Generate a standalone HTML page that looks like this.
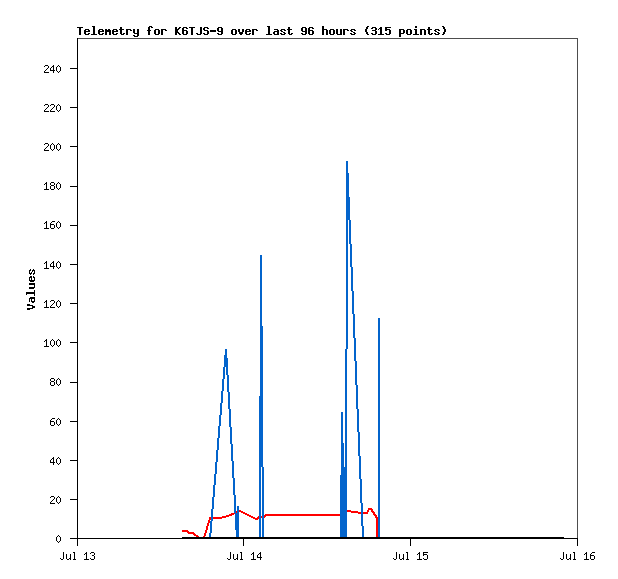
<!DOCTYPE html>
<html><head><meta charset="utf-8"><title>Telemetry</title>
<style>
html,body{margin:0;padding:0;background:#fff;}
body{width:618px;height:579px;position:relative;overflow:hidden;}
svg{position:absolute;left:0;top:0;display:block;}
.tx{position:absolute;color:transparent;white-space:pre;line-height:13px;margin:0;padding:0;}
.m{font-family:"Liberation Mono",monospace;font-weight:bold;font-size:11.667px;}
.s{font-family:"Liberation Mono",monospace;font-size:10px;line-height:12px;}
</style></head><body>
<svg width="618" height="579" viewBox="0 0 618 579" shape-rendering="crispEdges"><path fill="rgb(255,0,0)" d="M368 508h4v1h-4zM368 509h5v1h-5zM347 510h4v1h-4zM239 510h2v1h-2zM371 510h2v1h-2zM367 510h2v2h-2zM347 511h11v1h-11zM371 511h3v1h-3zM239 511h4v1h-4zM236 511h1v2h-1zM241 512h4v1h-4zM351 512h10v1h-10zM372 512h3v1h-3zM363 512h5v2h-5zM243 513h4v1h-4zM231 513h4v1h-4zM373 513h2v1h-2zM358 513h3v1h-3zM245 514h4v1h-4zM265 514h75v1h-75zM229 514h5v1h-5zM373 514h3v1h-3zM264 515h76v1h-76zM226 515h6v1h-6zM247 515h4v1h-4zM374 515h3v1h-3zM264 516h2v1h-2zM375 516h2v1h-2zM222 516h7v1h-7zM249 516h4v1h-4zM258 516h1v1h-1zM261 516h1v2h-1zM257 517h2v1h-2zM264 517h1v1h-1zM375 517h3v1h-3zM213 517h13v1h-13zM251 517h4v1h-4zM253 518h6v1h-6zM213 518h9v1h-9zM209 517h2v3h-2zM255 519h3v1h-3zM208 520h2v3h-2zM207 523h2v3h-2zM206 526h2v4h-2zM182 530h6v1h-6zM182 531h7v1h-7zM205 530h2v3h-2zM187 532h7v1h-7zM188 533h7v1h-7zM193 534h3v1h-3zM204 533h2v3h-2zM194 535h4v1h-4zM376 518h2v19h-2zM203 536h2v1h-2zM196 536h3v1h-3z"/><path fill="rgb(3,100,204)" d="M346 161h2v12h-2zM346 173h3v24h-3zM346 197h4v23h-4zM349 220h2v24h-2zM350 244h2v23h-2zM351 267h2v24h-2zM352 291h2v23h-2zM260 255h2v71h-2zM353 314h2v24h-2zM346 220h2v129h-2zM225 349h2v6h-2zM224 355h3v3h-3zM354 338h2v23h-2zM224 358h4v9h-4zM226 367h2v8h-2zM223 367h2v12h-2zM355 361h2v24h-2zM222 379h2v12h-2zM227 375h2v17h-2zM260 326h3v70h-3zM221 391h2v12h-2zM356 385h2v24h-2zM228 392h2v17h-2zM220 403h2v12h-2zM219 415h2v11h-2zM229 409h2v18h-2zM357 409h2v23h-2zM218 426h2v12h-2zM341 412h2v31h-2zM230 427h2v17h-2zM217 438h2v12h-2zM358 432h2v24h-2zM231 444h2v17h-2zM216 450h2v12h-2zM345 349h2v118h-2zM259 396h4v71h-4zM341 443h3v24h-3zM215 462h2v12h-2zM341 467h6v8h-6zM232 461h2v17h-2zM359 456h2v23h-2zM214 474h2v11h-2zM233 478h2v17h-2zM213 485h2v12h-2zM360 479h2v24h-2zM212 497h2v12h-2zM234 495h2v18h-2zM237 506h2v7h-2zM211 509h2v12h-2zM361 503h2v23h-2zM235 513h4v17h-4zM210 521h2v12h-2zM378 318h2v219h-2zM262 467h2v70h-2zM259 467h2v70h-2zM340 475h7v62h-7zM362 526h2v11h-2zM236 530h3v7h-3zM209 533h2v4h-2z"/><path fill="rgb(77,77,77)" d="M78 38h500v1h-500zM577 39h1v499h-1z"/><path fill="rgb(0,0,0)" d="M267 26h3v1h-3zM367 26h2v1h-2zM92 26h3v1h-3zM442 26h2v1h-2zM149 26h3v1h-3zM415 26h2v2h-2zM302 27h4v1h-4zM179 27h2v1h-2zM183 27h4v1h-4zM77 27h6v1h-6zM372 27h4v1h-4zM151 27h2v1h-2zM385 27h6v1h-6zM309 27h4v1h-4zM218 27h4v1h-4zM380 27h2v1h-2zM204 27h4v1h-4zM189 27h6v1h-6zM322 26h2v3h-2zM120 27h2v2h-2zM175 27h2v2h-2zM428 27h2v2h-2zM443 27h2v2h-2zM366 27h2v2h-2zM288 27h2v2h-2zM207 28h2v1h-2zM312 28h2v1h-2zM379 28h3v1h-3zM186 28h2v1h-2zM178 28h2v1h-2zM385 28h2v1h-2zM371 28h2v1h-2zM148 27h2v3h-2zM308 28h2v2h-2zM203 28h2v2h-2zM182 28h2v2h-2zM375 28h2v2h-2zM232 29h4v1h-4zM105 29h2v1h-2zM99 29h4v1h-4zM427 29h5v1h-5zM414 29h3v1h-3zM246 29h4v1h-4zM407 29h4v1h-4zM113 29h4v1h-4zM161 29h5v1h-5zM435 29h4v1h-4zM274 29h4v1h-4zM155 29h4v1h-4zM343 29h5v1h-5zM322 29h5v1h-5zM330 29h4v1h-4zM126 29h5v1h-5zM420 29h5v1h-5zM175 29h4v1h-4zM287 29h5v1h-5zM281 29h4v1h-4zM108 29h2v1h-2zM378 29h1v1h-1zM252 29h5v1h-5zM85 29h4v1h-4zM351 29h4v1h-4zM399 29h5v1h-5zM119 29h5v1h-5zM385 29h5v1h-5zM221 28h2v3h-2zM217 28h2v3h-2zM305 28h2v3h-2zM301 28h2v3h-2zM284 30h2v1h-2zM165 30h2v1h-2zM280 30h2v1h-2zM354 30h2v1h-2zM308 30h5v1h-5zM102 30h2v1h-2zM88 30h2v1h-2zM249 30h2v1h-2zM98 30h2v1h-2zM116 30h2v1h-2zM147 30h4v1h-4zM277 30h2v1h-2zM84 30h2v1h-2zM245 30h2v1h-2zM350 30h2v1h-2zM112 30h2v1h-2zM130 30h2v1h-2zM372 30h4v1h-4zM438 30h2v1h-2zM434 30h2v1h-2zM347 30h2v1h-2zM256 30h2v1h-2zM182 30h5v1h-5zM204 30h4v1h-4zM385 30h2v1h-2zM365 29h2v3h-2zM444 29h2v3h-2zM242 29h2v3h-2zM238 29h2v3h-2zM210 30h6v2h-6zM105 30h6v2h-6zM175 30h3v2h-3zM98 31h6v1h-6zM245 31h6v1h-6zM84 31h6v1h-6zM112 31h6v1h-6zM281 31h2v1h-2zM218 31h5v1h-5zM351 31h2v1h-2zM302 31h5v1h-5zM274 31h5v1h-5zM435 31h2v1h-2zM137 29h2v4h-2zM133 29h2v4h-2zM399 30h2v3h-2zM403 30h2v3h-2zM437 32h2v1h-2zM175 32h4v1h-4zM283 32h2v1h-2zM353 32h2v1h-2zM93 27h2v7h-2zM268 27h2v7h-2zM200 27h2v7h-2zM340 29h2v5h-2zM336 29h2v5h-2zM380 29h2v5h-2zM235 30h2v4h-2zM120 30h2v4h-2zM231 30h2v4h-2zM410 30h2v4h-2zM428 30h2v4h-2zM406 30h2v4h-2zM415 30h2v4h-2zM158 30h2v4h-2zM154 30h2v4h-2zM333 30h2v4h-2zM329 30h2v4h-2zM389 30h2v4h-2zM288 30h2v4h-2zM207 31h2v3h-2zM312 31h2v3h-2zM308 31h2v3h-2zM186 31h2v3h-2zM182 31h2v3h-2zM375 31h2v3h-2zM221 32h2v2h-2zM98 32h2v2h-2zM277 32h2v2h-2zM84 32h2v2h-2zM245 32h2v2h-2zM239 32h4v2h-4zM273 32h2v2h-2zM112 32h2v2h-2zM305 32h2v2h-2zM443 32h2v2h-2zM366 32h2v2h-2zM284 33h2v1h-2zM280 33h2v1h-2zM354 33h2v1h-2zM102 33h2v1h-2zM88 33h2v1h-2zM249 33h2v1h-2zM203 33h2v1h-2zM116 33h2v1h-2zM350 33h2v1h-2zM134 33h5v1h-5zM217 33h2v1h-2zM291 33h2v1h-2zM438 33h2v1h-2zM399 33h5v1h-5zM434 33h2v1h-2zM301 33h2v1h-2zM178 33h2v1h-2zM431 33h2v1h-2zM123 33h2v1h-2zM196 33h2v1h-2zM385 33h2v1h-2zM371 33h2v1h-2zM79 28h2v7h-2zM191 28h2v7h-2zM161 30h2v5h-2zM326 30h2v5h-2zM322 30h2v5h-2zM126 30h2v5h-2zM424 30h2v5h-2zM420 30h2v5h-2zM252 30h2v5h-2zM343 30h2v5h-2zM148 31h2v4h-2zM105 32h2v3h-2zM109 32h2v3h-2zM175 33h2v2h-2zM232 34h4v1h-4zM99 34h4v1h-4zM367 34h2v1h-2zM407 34h4v1h-4zM246 34h4v1h-4zM302 34h4v1h-4zM113 34h4v1h-4zM121 34h3v1h-3zM179 34h2v1h-2zM155 34h4v1h-4zM378 34h6v1h-6zM435 34h4v1h-4zM429 34h3v1h-3zM197 34h4v1h-4zM183 34h4v1h-4zM240 34h2v1h-2zM330 34h4v1h-4zM337 34h5v1h-5zM442 34h2v1h-2zM386 34h4v1h-4zM372 34h4v1h-4zM91 34h6v1h-6zM85 34h4v1h-4zM281 34h4v1h-4zM289 34h3v1h-3zM266 34h6v1h-6zM309 34h4v1h-4zM413 34h6v1h-6zM274 34h5v1h-5zM218 34h4v1h-4zM204 34h4v1h-4zM351 34h4v1h-4zM137 34h2v2h-2zM133 35h2v1h-2zM399 34h2v3h-2zM134 36h4v1h-4zM53 65h1v1h-1zM58 65h1v1h-1zM45 65h3v1h-3zM44 66h1v1h-1zM57 66h1v1h-1zM59 66h1v1h-1zM52 66h2v1h-2zM77 38h1v30h-1zM48 66h1v2h-1zM51 67h1v1h-1zM47 68h1v1h-1zM70 68h8v1h-8zM53 67h1v3h-1zM50 68h1v2h-1zM46 69h1v1h-1zM56 67h1v4h-1zM60 67h1v4h-1zM45 70h1v1h-1zM50 70h5v1h-5zM44 71h1v1h-1zM57 71h1v1h-1zM59 71h1v1h-1zM53 71h1v2h-1zM58 72h1v1h-1zM44 72h5v1h-5zM51 104h3v1h-3zM58 104h1v1h-1zM45 104h3v1h-3zM44 105h1v1h-1zM57 105h1v1h-1zM50 105h1v1h-1zM59 105h1v1h-1zM77 69h1v38h-1zM54 105h1v2h-1zM48 105h1v2h-1zM47 107h1v1h-1zM53 107h1v1h-1zM70 107h8v1h-8zM52 108h1v1h-1zM46 108h1v1h-1zM56 106h1v4h-1zM60 106h1v4h-1zM45 109h1v1h-1zM51 109h1v1h-1zM44 110h1v1h-1zM57 110h1v1h-1zM50 110h1v1h-1zM59 110h1v1h-1zM50 111h5v1h-5zM58 111h1v1h-1zM44 111h5v1h-5zM52 143h1v1h-1zM58 143h1v1h-1zM45 143h3v1h-3zM44 144h1v1h-1zM57 144h1v1h-1zM59 144h1v1h-1zM51 144h1v1h-1zM53 144h1v1h-1zM77 108h1v38h-1zM48 144h1v2h-1zM47 146h1v1h-1zM70 146h8v1h-8zM46 147h1v1h-1zM54 145h1v4h-1zM50 145h1v4h-1zM56 145h1v4h-1zM60 145h1v4h-1zM45 148h1v1h-1zM44 149h1v1h-1zM57 149h1v1h-1zM59 149h1v1h-1zM51 149h1v1h-1zM53 149h1v1h-1zM52 150h1v1h-1zM58 150h1v1h-1zM44 150h5v1h-5zM51 182h3v1h-3zM46 182h1v1h-1zM58 182h1v1h-1zM57 183h1v1h-1zM59 183h1v1h-1zM45 183h2v1h-2zM54 183h1v2h-1zM50 183h1v2h-1zM44 184h1v1h-1zM77 147h1v39h-1zM51 185h3v1h-3zM70 186h8v1h-8zM56 184h1v4h-1zM60 184h1v4h-1zM46 184h1v5h-1zM54 186h1v3h-1zM50 186h1v3h-1zM57 188h1v1h-1zM59 188h1v1h-1zM51 189h3v1h-3zM58 189h1v1h-1zM44 189h5v1h-5zM46 221h1v1h-1zM52 221h3v1h-3zM58 221h1v1h-1zM57 222h1v1h-1zM59 222h1v1h-1zM51 222h1v1h-1zM45 222h2v1h-2zM44 223h1v1h-1zM50 223h1v1h-1zM77 187h1v38h-1zM50 224h4v1h-4zM70 225h8v1h-8zM56 223h1v4h-1zM60 223h1v4h-1zM46 223h1v5h-1zM54 225h1v3h-1zM50 225h1v3h-1zM57 227h1v1h-1zM59 227h1v1h-1zM51 228h3v1h-3zM58 228h1v1h-1zM44 228h5v1h-5zM46 261h1v1h-1zM58 261h1v1h-1zM53 261h1v1h-1zM57 262h1v1h-1zM59 262h1v1h-1zM52 262h2v1h-2zM45 262h2v1h-2zM77 226h1v38h-1zM44 263h1v1h-1zM51 263h1v1h-1zM70 264h8v1h-8zM53 263h1v3h-1zM50 264h1v2h-1zM56 263h1v4h-1zM60 263h1v4h-1zM50 266h5v1h-5zM46 263h1v5h-1zM57 267h1v1h-1zM59 267h1v1h-1zM53 267h1v2h-1zM58 268h1v1h-1zM44 268h5v1h-5zM33 269h1v1h-1zM30 269h1v1h-1zM29 270h2v1h-2zM32 270h3v1h-3zM32 271h1v1h-1zM34 271h1v2h-1zM29 271h1v2h-1zM31 272h1v1h-1zM29 273h3v1h-3zM33 273h2v1h-2zM33 274h1v1h-1zM30 274h1v1h-1zM33 276h1v1h-1zM30 276h2v1h-2zM29 277h3v1h-3zM33 277h2v1h-2zM31 278h1v2h-1zM34 278h1v2h-1zM29 278h1v2h-1zM29 280h6v1h-6zM30 281h4v1h-4zM29 283h6v2h-6zM34 285h1v2h-1zM29 287h6v1h-6zM29 288h5v1h-5zM34 290h1v2h-1zM26 292h9v2h-9zM26 294h1v1h-1zM34 294h1v2h-1zM30 297h5v1h-5zM29 298h6v1h-6zM31 299h1v2h-1zM34 299h1v2h-1zM51 300h3v1h-3zM58 300h1v1h-1zM46 300h1v1h-1zM29 299h1v3h-1zM57 301h1v1h-1zM50 301h1v1h-1zM59 301h1v1h-1zM31 301h4v1h-4zM45 301h2v1h-2zM77 265h1v38h-1zM54 301h1v2h-1zM32 302h2v1h-2zM44 302h1v1h-1zM53 303h1v1h-1zM70 303h8v1h-8zM52 304h1v1h-1zM27 304h3v1h-3zM56 302h1v4h-1zM60 302h1v4h-1zM27 305h6v1h-6zM51 305h1v1h-1zM46 302h1v5h-1zM57 306h1v1h-1zM50 306h1v1h-1zM59 306h1v1h-1zM32 306h3v2h-3zM58 307h1v1h-1zM50 307h5v1h-5zM44 307h5v1h-5zM27 308h6v1h-6zM27 309h3v1h-3zM46 339h1v1h-1zM52 339h1v1h-1zM58 339h1v1h-1zM57 340h1v1h-1zM59 340h1v1h-1zM51 340h1v1h-1zM45 340h2v1h-2zM53 340h1v1h-1zM77 304h1v38h-1zM44 341h1v1h-1zM70 342h8v1h-8zM54 341h1v4h-1zM50 341h1v4h-1zM56 341h1v4h-1zM60 341h1v4h-1zM46 341h1v5h-1zM57 345h1v1h-1zM59 345h1v1h-1zM51 345h1v1h-1zM53 345h1v1h-1zM52 346h1v1h-1zM58 346h1v1h-1zM44 346h5v1h-5zM51 378h3v1h-3zM58 378h1v1h-1zM57 379h1v1h-1zM59 379h1v1h-1zM54 379h1v2h-1zM50 379h1v2h-1zM77 343h1v39h-1zM51 381h3v1h-3zM70 382h8v1h-8zM56 380h1v4h-1zM60 380h1v4h-1zM54 382h1v3h-1zM50 382h1v3h-1zM57 384h1v1h-1zM59 384h1v1h-1zM51 385h3v1h-3zM58 385h1v1h-1zM52 418h3v1h-3zM58 418h1v1h-1zM57 419h1v1h-1zM59 419h1v1h-1zM51 419h1v1h-1zM77 383h1v38h-1zM50 420h1v1h-1zM70 421h8v1h-8zM50 421h4v1h-4zM56 420h1v4h-1zM60 420h1v4h-1zM54 422h1v3h-1zM50 422h1v3h-1zM57 424h1v1h-1zM59 424h1v1h-1zM51 425h3v1h-3zM58 425h1v1h-1zM58 457h1v1h-1zM53 457h1v1h-1zM57 458h1v1h-1zM59 458h1v1h-1zM52 458h2v1h-2zM77 422h1v38h-1zM51 459h1v1h-1zM70 460h8v1h-8zM53 459h1v3h-1zM50 460h1v2h-1zM56 459h1v4h-1zM60 459h1v4h-1zM50 462h5v1h-5zM57 463h1v1h-1zM59 463h1v1h-1zM53 463h1v2h-1zM58 464h1v1h-1zM51 496h3v1h-3zM58 496h1v1h-1zM57 497h1v1h-1zM50 497h1v1h-1zM59 497h1v1h-1zM77 461h1v38h-1zM54 497h1v2h-1zM70 499h8v1h-8zM53 499h1v1h-1zM52 500h1v1h-1zM56 498h1v4h-1zM60 498h1v4h-1zM51 501h1v1h-1zM57 502h1v1h-1zM59 502h1v1h-1zM50 502h1v1h-1zM50 503h5v1h-5zM58 503h1v1h-1zM58 535h1v1h-1zM57 536h1v1h-1zM59 536h1v1h-1zM77 500h1v38h-1zM182 537h382v1h-382zM70 538h508v1h-508zM56 537h1v4h-1zM60 537h1v4h-1zM57 541h1v1h-1zM59 541h1v1h-1zM58 542h1v1h-1zM243 539h1v7h-1zM77 539h1v7h-1zM577 539h1v7h-1zM410 539h1v7h-1zM73 552h2v1h-2zM423 552h5v1h-5zM592 552h3v1h-3zM260 552h1v1h-1zM91 552h3v1h-3zM240 552h2v1h-2zM253 552h1v1h-1zM86 552h1v1h-1zM573 552h2v1h-2zM406 552h2v1h-2zM419 552h1v1h-1zM586 552h1v1h-1zM90 553h1v1h-1zM259 553h2v1h-2zM85 553h2v1h-2zM585 553h2v1h-2zM423 553h1v1h-1zM591 553h1v1h-1zM418 553h2v1h-2zM252 553h2v1h-2zM94 553h1v2h-1zM251 554h1v1h-1zM417 554h1v1h-1zM423 554h4v1h-4zM258 554h1v1h-1zM84 554h1v1h-1zM584 554h1v1h-1zM590 554h1v1h-1zM92 555h2v1h-2zM423 555h1v1h-1zM590 555h4v1h-4zM260 554h1v3h-1zM257 555h1v2h-1zM237 554h1v4h-1zM403 554h1v4h-1zM570 554h1v4h-1zM70 554h1v4h-1zM257 557h5v1h-5zM63 552h1v7h-1zM230 552h1v7h-1zM563 552h1v7h-1zM396 552h1v7h-1zM74 553h1v6h-1zM407 553h1v6h-1zM574 553h1v6h-1zM241 553h1v6h-1zM86 554h1v5h-1zM233 554h1v5h-1zM399 554h1v5h-1zM253 554h1v5h-1zM419 554h1v5h-1zM566 554h1v5h-1zM66 554h1v5h-1zM586 554h1v5h-1zM427 555h1v4h-1zM594 556h1v3h-1zM590 556h1v3h-1zM94 556h1v3h-1zM90 558h1v1h-1zM69 558h2v1h-2zM393 558h1v1h-1zM60 558h1v1h-1zM560 558h1v1h-1zM236 558h2v1h-2zM423 558h1v1h-1zM402 558h2v1h-2zM227 558h1v1h-1zM569 558h2v1h-2zM260 558h1v2h-1zM240 559h3v1h-3zM417 559h5v1h-5zM237 559h1v1h-1zM406 559h3v1h-3zM424 559h3v1h-3zM403 559h1v1h-1zM234 559h2v1h-2zM561 559h2v1h-2zM400 559h2v1h-2zM61 559h2v1h-2zM84 559h5v1h-5zM591 559h3v1h-3zM584 559h5v1h-5zM91 559h3v1h-3zM573 559h3v1h-3zM567 559h2v1h-2zM570 559h1v1h-1zM73 559h3v1h-3zM228 559h2v1h-2zM67 559h2v1h-2zM70 559h1v1h-1zM394 559h2v1h-2zM251 559h5v1h-5z"/></svg>
<div class="tx m" style="left:76px;top:24px;">Telemetry for K6TJS-9 over last 96 hours (315 points)</div>
<div class="tx m" style="left:24px;top:311px;transform-origin:0 0;transform:rotate(-90deg);">Values</div>
<div class="tx s" style="left:56px;top:533px;width:6px;">0</div>
<div class="tx s" style="left:50px;top:494px;width:12px;">20</div>
<div class="tx s" style="left:50px;top:455px;width:12px;">40</div>
<div class="tx s" style="left:50px;top:416px;width:12px;">60</div>
<div class="tx s" style="left:50px;top:376px;width:12px;">80</div>
<div class="tx s" style="left:44px;top:337px;width:18px;">100</div>
<div class="tx s" style="left:44px;top:298px;width:18px;">120</div>
<div class="tx s" style="left:44px;top:259px;width:18px;">140</div>
<div class="tx s" style="left:44px;top:219px;width:18px;">160</div>
<div class="tx s" style="left:44px;top:180px;width:18px;">180</div>
<div class="tx s" style="left:44px;top:141px;width:18px;">200</div>
<div class="tx s" style="left:44px;top:102px;width:18px;">220</div>
<div class="tx s" style="left:44px;top:63px;width:18px;">240</div>
<div class="tx s" style="left:60px;top:550px;width:36px;">Jul 13</div>
<div class="tx s" style="left:227px;top:550px;width:36px;">Jul 14</div>
<div class="tx s" style="left:393px;top:550px;width:36px;">Jul 15</div>
<div class="tx s" style="left:560px;top:550px;width:36px;">Jul 16</div>

</body></html>
